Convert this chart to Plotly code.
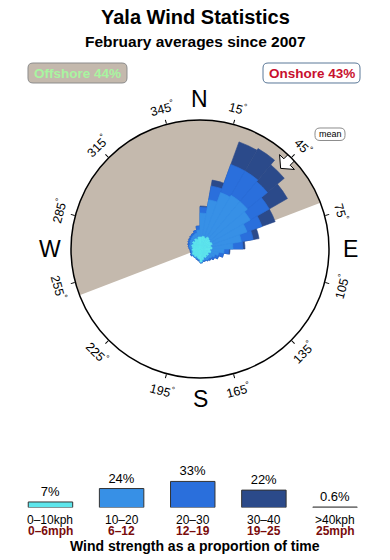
import math
import numpy as np
import plotly.graph_objects as go

# ---------------- data ----------------
directions = list(range(5, 360, 10))  # sector centres, degrees

# radial extent of each speed band per direction sector (stacked)
rose_0_10 = [1.2, 1.3, 1.2, 1.4, 1.3, 1.2, 1.3, 1.1, 1.2, 1.0, 1.1, 0.9, 1.0, 0.9, 1.0, 0.9, 1.1, 1.3,
             1.0, 0.9, 0.8, 0.9, 0.8, 0.9, 0.8, 0.7, 0.8, 0.7, 0.8, 0.9, 0.8, 1.0, 0.9, 1.1, 1.0, 1.2]
rose_10_20 = [2.4, 3.7, 4.8, 4.8, 4.9, 4.6, 3.7, 3.1, 2.1, 1.4, 0.8, 0.7, 0.4, 0.4, 0.3, 0.3, 0.1, 0.1,
              0.1, 0.1, 0.2, 0.1, 0.2, 0.1, 0.1, 0.2, 0.1, 0.3, 0.3, 0.2, 0.4, 0.3, 0.5, 0.4, 0.6, 0.7]
rose_20_30 = [0.6, 1.4, 3.0, 2.8, 2.6, 2.2, 1.6, 1.2, 1.0, 0.5, 0.5, 0.4, 0.3, 0.2, 0.1, 0.1, 0.1, 0.0,
              0.1, 0.1, 0.0, 0.0, 0.0, 0.1, 0.1, 0.1, 0.1, 0.1, 0.1, 0.2, 0.2, 0.2, 0.2, 0.2, 0.3, 0.4]
rose_30_40 = [0.1, 0.6, 2.4, 2.6, 2.2, 2.1, 1.4, 0.6, 0.2, 0.1, 0.0, 0.0, 0.0, 0.0, 0.0, 0.0, 0.0, 0.0,
              0.0, 0.0, 0.0, 0.0, 0.0, 0.0, 0.0, 0.0, 0.0, 0.0, 0.0, 0.0, 0.0, 0.0, 0.0, 0.0, 0.0, 0.0]

speed_kph = ["0–10kph", "10–20", "20–30", "30–40", ">40kph"]
speed_mph = ["0–6mph", "6–12", "12–19", "19–25", "25mph"]
speed_share = [7, 24, 33, 22, 0.6]
speed_share_text = ["7%", "24%", "33%", "22%", "0.6%"]

offshore_from, offshore_to = 249, 69   # offshore sector (clockwise from -> to)
mean_direction = 45
offshore_pct, onshore_pct = 44, 43
tick_angles = [15, 45, 75, 105, 135, 165, 195, 225, 255, 285, 315, 345]
compass = [("N", 0), ("E", 90), ("S", 180), ("W", 270)]

# ---------------- styling / layout ----------------
W, H = 390, 560
CX, CY, R = 200, 249, 129
RMAX = 12.9
FONT = "Liberation Sans, Arial, Helvetica, sans-serif"
band_colors = ["#5ee6ec", "#3790e6", "#2a6fdc", "#2b4a8a", "#c8c8c8"]
TAN = "#c4b9ad"


def px(x, y):
    return x / W, 1 - y / H


fig = go.Figure()

# offshore sector
span = (offshore_to - offshore_from) % 360
fig.add_trace(go.Barpolar(r=[RMAX], theta=[(offshore_from + span / 2) % 360], width=[span],
                          marker=dict(color=TAN, line=dict(width=0)), hoverinfo="skip",
                          showlegend=False))

# stacked rose (drawn outermost first, overlay)
bands = np.array([rose_0_10, rose_10_20, rose_20_30, rose_30_40])
cum = np.cumsum(bands, axis=0)
for i in range(3, -1, -1):
    fig.add_trace(go.Barpolar(r=cum[i], theta=directions, width=[10] * len(directions),
                              marker=dict(color=band_colors[i],
                                          line=dict(color=band_colors[i], width=0.6)),
                              showlegend=False))

# mean arrow
arrow_local = [(11.4, 0), (12.3, 1.05), (12.3, 0.45), (13.0, 0.45), (13.0, -0.45),
               (12.3, -0.45), (12.3, -1.05), (11.4, 0)]
ar = [math.hypot(d, v) for d, v in arrow_local]
at = [mean_direction + math.degrees(math.atan2(v, d)) for d, v in arrow_local]
fig.add_trace(go.Scatterpolar(r=ar, theta=at, mode="lines", fill="toself", fillcolor="white",
                              line=dict(color="black", width=1), cliponaxis=False,
                              showlegend=False, hoverinfo="skip"))

# speed distribution bars
fig.add_trace(go.Bar(x=list(range(len(speed_share))), y=speed_share, width=0.625,
                     marker=dict(color=band_colors, line=dict(color="#333333", width=1)),
                     text=speed_share_text, textposition="outside", cliponaxis=False,
                     textfont=dict(family=FONT, size=13, color="black"),
                     xaxis="x", yaxis="y", showlegend=False))

x0, y1 = px(CX - R, CY - R)
x1, y0 = px(CX + R, CY + R)

base_y = 507.5
px_per_pct = 0.79
yr = 35
fig.update_layout(
    width=W, height=H, margin=dict(l=0, r=0, t=0, b=0),
    paper_bgcolor="white", plot_bgcolor="white",
    font=dict(family=FONT, color="black"),
    polar=dict(
        domain=dict(x=[x0, x1], y=[y0, y1]),
        bgcolor="white", barmode="overlay",
        radialaxis=dict(range=[0, RMAX], visible=False),
        angularaxis=dict(direction="clockwise", rotation=90, tickmode="array",
                         tickvals=tick_angles, ticks="outside", ticklen=4, tickwidth=1,
                         tickcolor="black", showticklabels=False, showline=True,
                         linecolor="black", linewidth=1.5, showgrid=False),
    ),
    xaxis=dict(domain=[(50.5 - 35.6) / W, (335 + 35.6) / W], range=[-0.5, 4.5], visible=False),
    yaxis=dict(domain=[1 - base_y / H, 1 - (base_y - yr * px_per_pct) / H], range=[0, yr],
               visible=False),
)

ann = []
shapes = []


def label(text, x, y, size, color="black", **kw):
    a, b = px(x, y)
    d = dict(text=text, x=a, y=b, xref="paper", yref="paper", showarrow=False,
             font=dict(size=size, color=color), xanchor="center", yanchor="middle")
    d.update(kw)
    ann.append(d)


# titles
label("<b>Yala Wind Statistics</b>", W / 2, 17, 20)
label("<b>February averages since 2007</b>", W / 2, 42, 15.5)


def rounded_rect(xa, ya, xb, yb, rad):
    def p(x, y):
        a, b = px(x, y)
        return f"{a:.5f},{b:.5f}"
    return (f"M {p(xa + rad, ya)} L {p(xb - rad, ya)} Q {p(xb, ya)} {p(xb, ya + rad)} "
            f"L {p(xb, yb - rad)} Q {p(xb, yb)} {p(xb - rad, yb)} L {p(xa + rad, yb)} "
            f"Q {p(xa, yb)} {p(xa, yb - rad)} L {p(xa, ya + rad)} Q {p(xa, ya)} {p(xa + rad, ya)} Z")


# offshore / onshore boxes
shapes.append(dict(type="path", path=rounded_rect(28, 63, 127, 83, 5), xref="paper",
                   yref="paper", fillcolor=TAN, line=dict(color="#8c8c8c", width=1)))
label(f"<b>Offshore {offshore_pct}%</b>", 77.5, 73.5, 13.5, "#a8f5a0")
shapes.append(dict(type="path", path=rounded_rect(263, 63, 360, 83, 5), xref="paper",
                   yref="paper", fillcolor="white", line=dict(color="#5a7898", width=1)))
label(f"<b>Onshore {onshore_pct}%</b>", 311.5, 73.5, 13.5, "#c8102e")

# mean box
shapes.append(dict(type="path", path=rounded_rect(315, 128, 345, 140.5, 5), xref="paper",
                   yref="paper", fillcolor="white", line=dict(color="#8c8c8c", width=1)))
label("mean", 330, 134.3, 9)

# degree labels
LR = 146
for b in tick_angles:
    xx = CX + LR * math.sin(math.radians(b))
    yy = CY - LR * math.cos(math.radians(b))
    ang = ((b + 90) % 180) - 90
    label(f"{b}<sup>°</sup>", xx, yy, 12.5, textangle=ang)

# compass letters
CR = 150
for lab, b in compass:
    xx = CX + CR * math.sin(math.radians(b))
    yy = CY - CR * math.cos(math.radians(b))
    label(lab, xx, yy, 23)

# speed labels
for i, (k, m) in enumerate(zip(speed_kph, speed_mph)):
    ann.append(dict(text=k, x=i, xref="x", y=px(0, 519.5)[1], yref="paper", showarrow=False,
                    font=dict(size=12), xanchor="center", yanchor="middle"))
    ann.append(dict(text=f"<b>{m}</b>", x=i, xref="x", y=px(0, 531)[1], yref="paper",
                    showarrow=False, font=dict(size=12, color="#7a0c0c"), xanchor="center",
                    yanchor="middle"))

label("<b>Wind strength as a proportion of time</b>", W / 2, 545.5, 14)

fig.update_layout(annotations=ann, shapes=shapes)
fig.write_html("out.html")
